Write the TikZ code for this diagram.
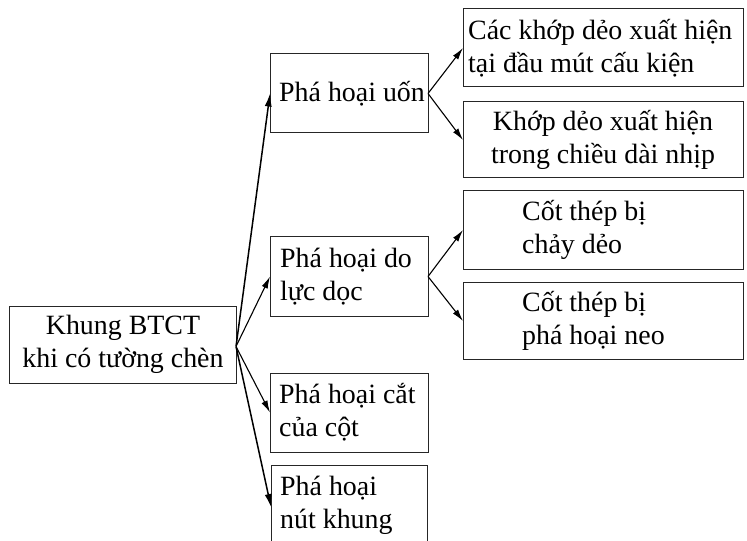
\documentclass[tikz,border=0pt]{standalone}
\usepackage{fontspec}
\setmainfont{Liberation Serif}
\usetikzlibrary{arrows.meta}
\begin{document}
\begin{tikzpicture}[x=1bp,y=-1bp,
  box/.style={draw=black!85, line width=1bp, inner sep=0pt, outer sep=0pt, rectangle},
  txt/.style={inner sep=0pt, font=\fontsize{28}{33}\selectfont},
  arr/.style={-{Latex[length=12bp,width=6.5bp]}, line width=1.1bp},
  arrb/.style={-{Latex[length=13bp,width=7bp]}, line width=1.5bp}]
\useasboundingbox (0,0) rectangle (747,541);
% boxes
\node[box, minimum width=226bp, minimum height=77bp] (K) at (123,344.5) {};
\node[box, minimum width=158bp, minimum height=79bp] (U) at (349,93.5) {};
\node[box, minimum width=158bp, minimum height=79bp] (L) at (349,276.5) {};
\node[box, minimum width=158bp, minimum height=79bp] (S) at (349,412.5) {};
\node[box, minimum width=156bp, minimum height=80bp] (N) at (349,505) {};
\node[box, minimum width=280bp, minimum height=78bp] (A) at (603,48) {};
\node[box, minimum width=280bp, minimum height=76bp] (B) at (603,140) {};
\node[box, minimum width=280bp, minimum height=78bp] (C) at (603,230) {};
\node[box, minimum width=280bp, minimum height=76bp] (D) at (603,321) {};
% texts
\node[txt, align=center] (Kt) at (K.center) {Khung BTCT\\khi có tường chèn};
\node[txt, align=left, anchor=west] (Ut) at ([xshift=9bp]U.west) {Phá hoại uốn};
\node[txt, align=left, anchor=west] (Lt) at ([xshift=10bp]L.west) {Phá hoại do\\lực dọc};
\node[txt, align=left, anchor=west] (St) at ([xshift=9bp]S.west) {Phá hoại cắt\\của cột};
\node[txt, align=left, anchor=west] (Nt) at ([xshift=9bp]N.west) {Phá hoại\\nút khung};
\node[txt, align=left, anchor=west] (At) at ([xshift=5bp]A.west) {Các khớp dẻo xuất hiện\\tại đầu mút cấu kiện};
\node[txt, align=center] (Bt) at (B.center) {Khớp dẻo xuất hiện\\trong chiều dài nhịp};
\node[txt, align=left, anchor=west] (Ct) at ([xshift=59bp]C.west) {Cốt thép bị\\chảy dẻo};
\node[txt, align=left, anchor=west] (Dt) at ([xshift=59bp]D.west) {Cốt thép bị\\phá hoại neo};
% connectors
\coordinate (Ks) at ([yshift=-2bp]K.east);
\draw[arrb] (Ks) -- (U.west);
\draw[arr] (Ks) -- (L.west);
\draw[arr] (Ks) -- (S.west);
\draw[arrb] (Ks) -- ([yshift=-2bp]N.west);
\draw[arr] (U.east) -- (A.west);
\draw[arr] (U.east) -- (B.west);
\draw[arr] (L.east) -- (C.west);
\draw[arr] (L.east) -- (D.west);
\end{tikzpicture}
\end{document}
